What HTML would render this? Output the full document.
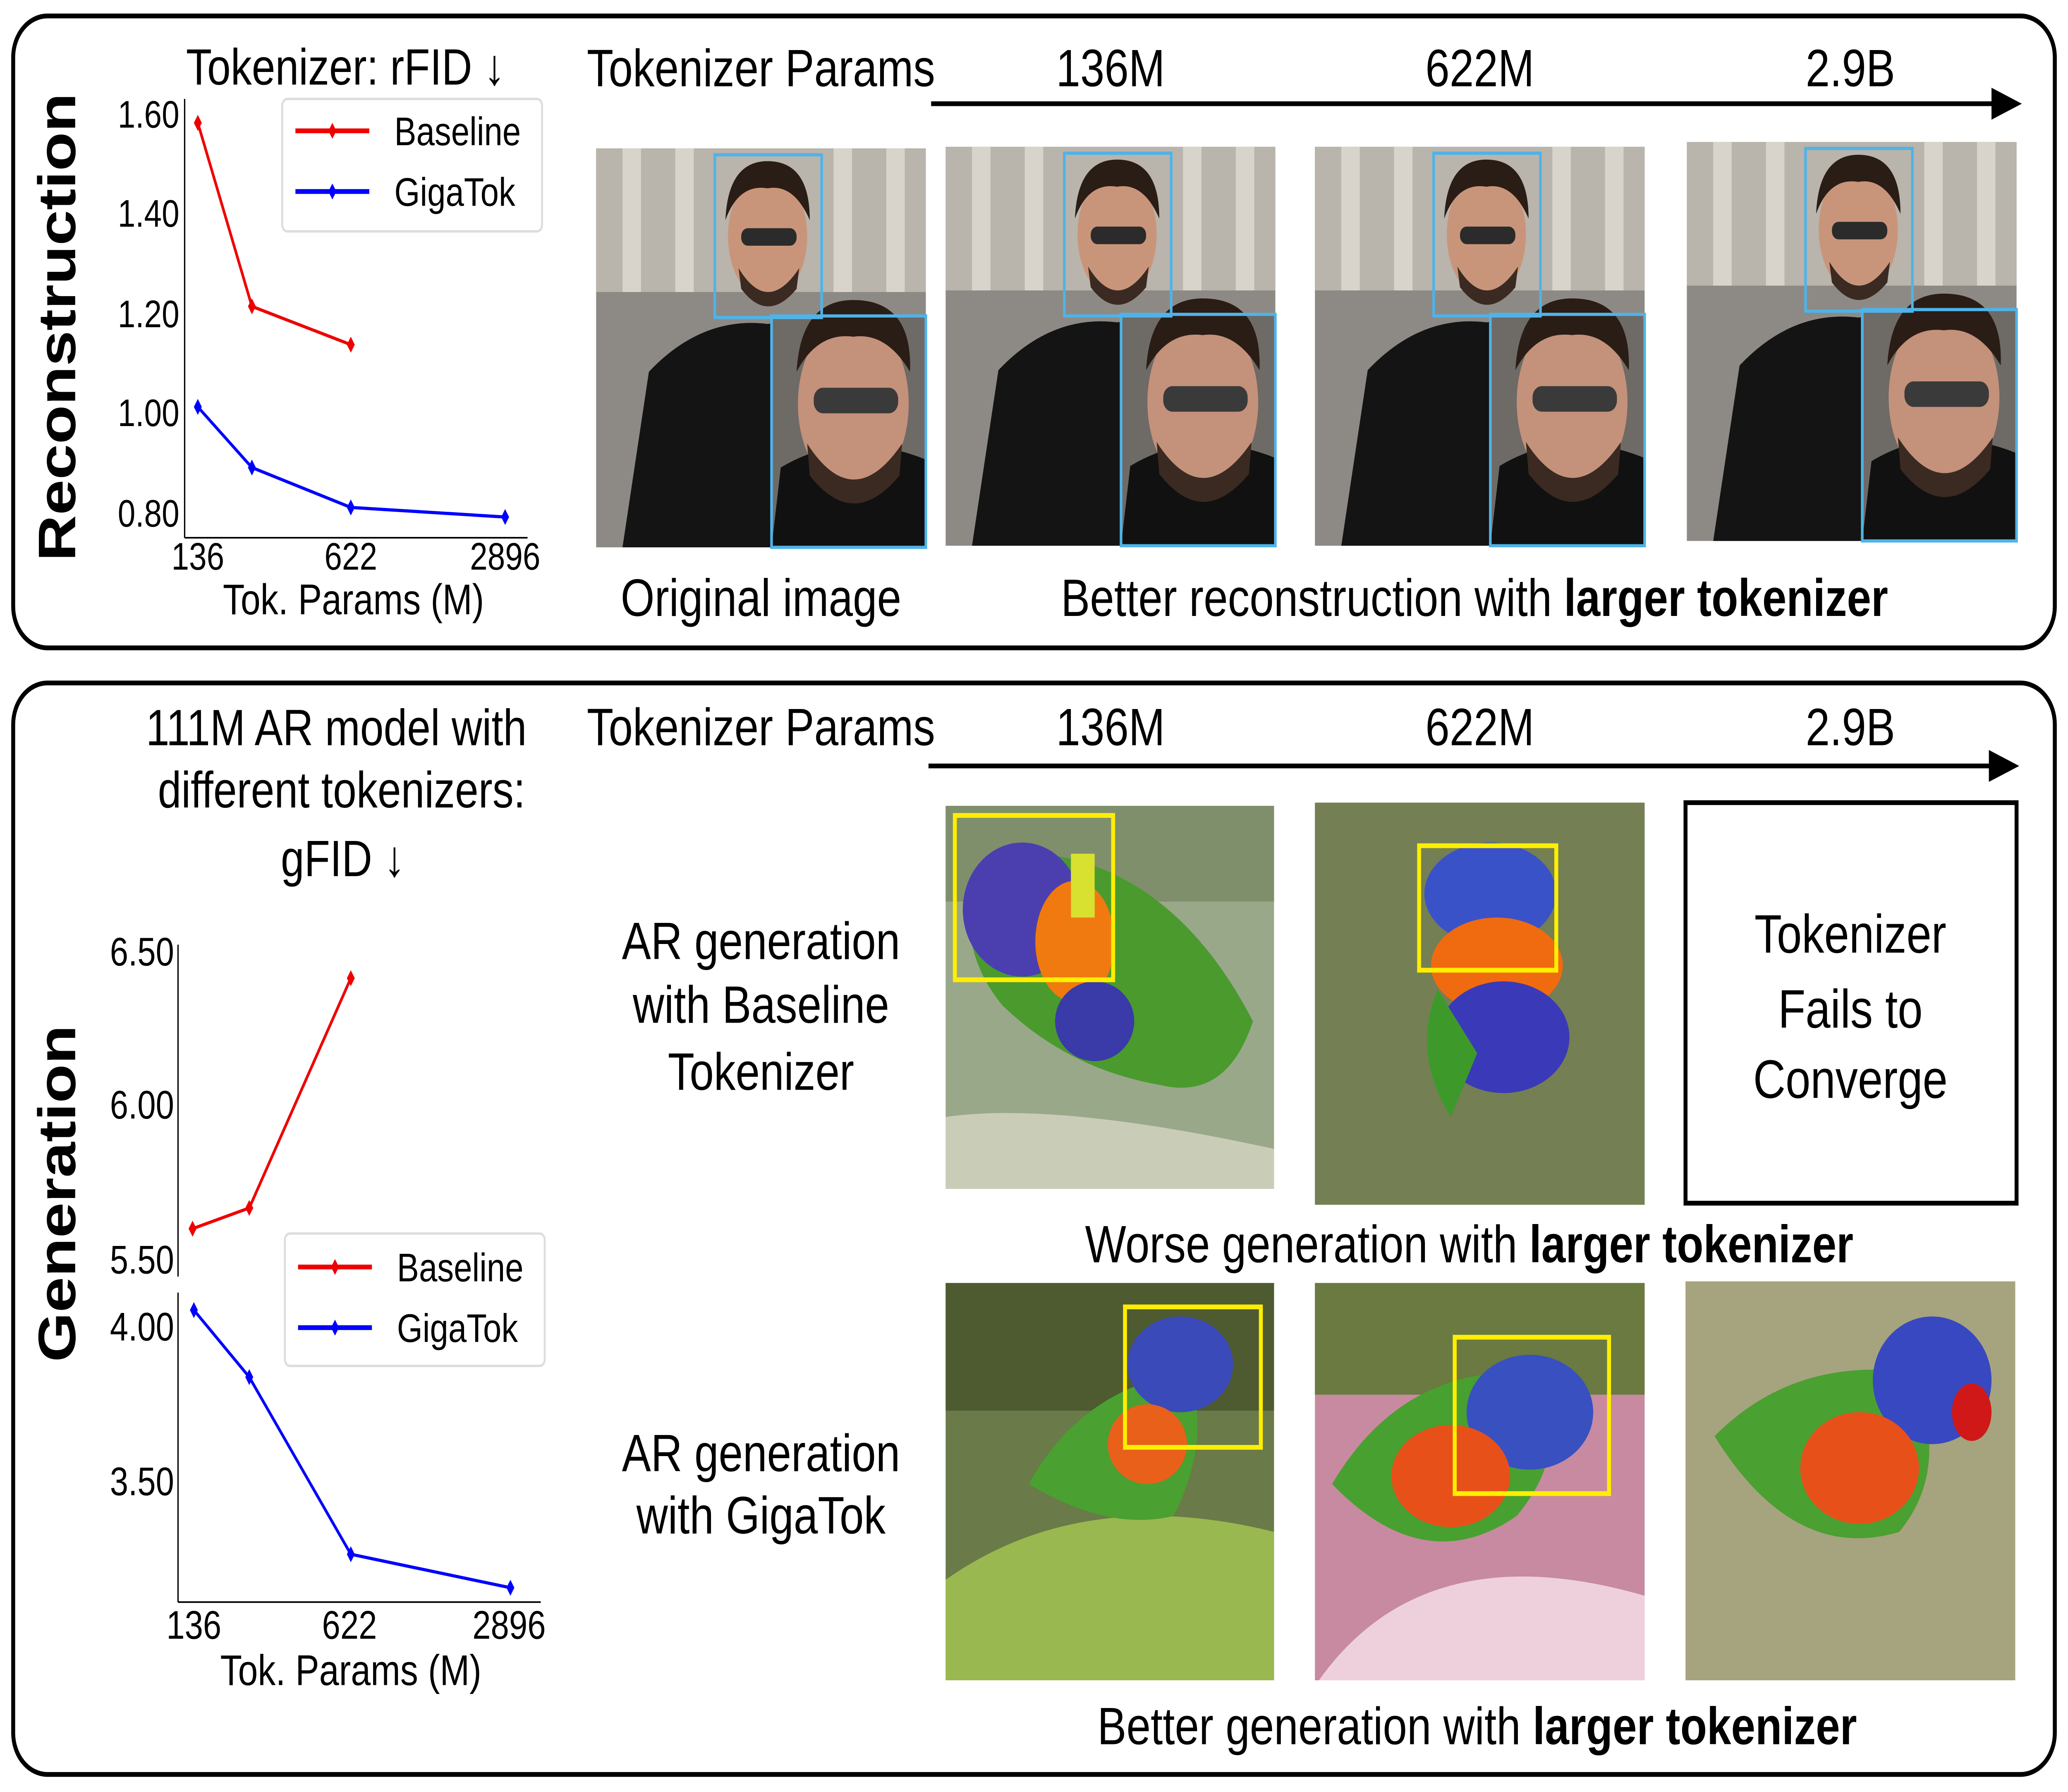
<!DOCTYPE html>
<html><head><meta charset="utf-8">
<style>
html,body{margin:0;padding:0;background:#fff;overflow:hidden;width:100%;height:100%;}
svg{display:block;width:100vw;height:100vh;}
text{font-family:"Liberation Sans",sans-serif;fill:#000;}
</style></head>
<body>
<svg viewBox="0 0 1568 1123" preserveAspectRatio="none" xmlns="http://www.w3.org/2000/svg">
<defs>
<g id="man">
  <rect x="0" y="0" width="250" height="250" fill="#8d8a86"/>
  <rect x="0" y="0" width="250" height="90" fill="#b9b4ac"/>
  <rect x="20" y="0" width="14" height="90" fill="#d8d4cc"/><rect x="60" y="0" width="14" height="90" fill="#d8d4cc"/>
  <rect x="180" y="0" width="14" height="90" fill="#d8d4cc"/><rect x="220" y="0" width="14" height="90" fill="#d8d4cc"/>
  <path d="M20,250 L40,140 Q80,105 130,110 Q180,105 220,140 L240,250 z" fill="#141414"/>
  <ellipse cx="130" cy="55" rx="30" ry="40" fill="#c9957a"/>
  <path d="M98,45 Q100,8 130,8 Q162,8 162,45 Q150,22 130,25 Q108,22 98,45z" fill="#2a1d16"/>
  <rect x="110" y="50" width="42" height="11" rx="5" fill="#2b2b2b"/>
  <path d="M108,75 Q130,105 154,75 L152,88 Q130,110 110,88z" fill="#3a2a22"/>
  <rect x="133" y="105" width="117" height="145" fill="#6e6a66"/>
  <path d="M133,250 L140,200 Q190,175 250,195 L250,250z" fill="#111"/>
  <ellipse cx="195" cy="160" rx="42" ry="55" fill="#c4917a"/>
  <path d="M152,140 Q155,95 195,95 Q240,95 238,140 Q220,115 195,118 Q168,115 152,140z" fill="#2a1d16"/>
  <rect x="165" y="150" width="64" height="16" rx="7" fill="#3a3a3a"/>
  <path d="M160,185 Q195,230 232,185 L230,205 Q195,240 162,205z" fill="#3a2a22"/>
  <rect x="90" y="4" width="81" height="102" fill="none" stroke="#4fb3e8" stroke-width="2"/>
  <rect x="133" y="105" width="117" height="145" fill="none" stroke="#4fb3e8" stroke-width="2"/>
</g>
</defs>
<rect width="1568" height="1123" fill="#fff"/>
<rect x="10" y="10" width="1548" height="396" rx="26" fill="none" stroke="#000" stroke-width="3"/>
<rect x="10" y="428" width="1548" height="684" rx="26" fill="none" stroke="#000" stroke-width="3"/>

<!-- Top chart -->
<text x="262" y="53" font-size="32" text-anchor="middle">Tokenizer: rFID ↓</text>
<text transform="translate(57,205) rotate(-90)" font-size="40" font-weight="bold" text-anchor="middle">Reconstruction</text>
<line x1="140" y1="62" x2="140" y2="337" stroke="#000" stroke-width="1"/>
<line x1="140" y1="337" x2="400" y2="337" stroke="#000" stroke-width="1"/>
<g font-size="24" text-anchor="end">
<text x="136" y="80">1.60</text><text x="136" y="142">1.40</text><text x="136" y="205">1.20</text><text x="136" y="267">1.00</text><text x="136" y="330">0.80</text>
</g>
<g font-size="24" text-anchor="middle">
<text x="150" y="357">136</text><text x="266" y="357">622</text><text x="383" y="357">2896</text>
</g>
<text x="268" y="385" font-size="27" text-anchor="middle">Tok. Params (M)</text>
<polyline points="150,77 191,192 266,216" fill="none" stroke="#e00" stroke-width="2"/>
<polyline points="150,255 191,293 266,318 383,324" fill="none" stroke="#00f" stroke-width="2"/>
<g fill="#e00"><path d="M150,72l3,5l-3,5l-3,-5z"/><path d="M191,187l3,5l-3,5l-3,-5z"/><path d="M266,211l3,5l-3,5l-3,-5z"/></g>
<g fill="#00f"><path d="M150,250l3,5l-3,5l-3,-5z"/><path d="M191,288l3,5l-3,5l-3,-5z"/><path d="M266,313l3,5l-3,5l-3,-5z"/><path d="M383,319l3,5l-3,5l-3,-5z"/></g>
<rect x="214" y="62" width="197" height="83" rx="4" fill="#fff" stroke="#ddd" stroke-width="1.5"/>
<line x1="224" y1="82" x2="280" y2="82" stroke="#e00" stroke-width="3"/><path d="M252,77l3,5l-3,5l-3,-5z" fill="#e00"/>
<line x1="224" y1="120" x2="280" y2="120" stroke="#00f" stroke-width="3"/><path d="M252,115l3,5l-3,5l-3,-5z" fill="#00f"/>
<text x="299" y="91" font-size="25">Baseline</text><text x="299" y="129" font-size="25">GigaTok</text>

<!-- Top right -->
<g font-size="33" text-anchor="middle">
<text x="577" y="54">Tokenizer Params</text><text x="842" y="54">136M</text><text x="1122" y="54">622M</text><text x="1403" y="54">2.9B</text>
</g>
<line x1="706" y1="65" x2="1512" y2="65" stroke="#000" stroke-width="3"/>
<path d="M1533,65 L1510,55 L1510,75z"/>
<use href="#man" x="452" y="93"/>
<use href="#man" x="717" y="92"/>
<use href="#man" x="997" y="92"/>
<use href="#man" x="1279" y="89"/>
<text x="577" y="386" font-size="33" text-anchor="middle">Original image</text>
<text x="1118" y="386" font-size="33" text-anchor="middle">Better reconstruction with <tspan font-weight="bold">larger tokenizer</tspan></text>

<!-- Bottom chart -->
<g font-size="32" text-anchor="middle">
<text x="255" y="467">111M AR model with</text><text x="259" y="506">different tokenizers:</text><text x="260" y="549">gFID ↓</text>
</g>
<text transform="translate(57,748) rotate(-90)" font-size="40" font-weight="bold" text-anchor="middle">Generation</text>
<line x1="135" y1="592" x2="135" y2="800" stroke="#000" stroke-width="1"/>
<line x1="135" y1="810" x2="135" y2="1004" stroke="#000" stroke-width="1"/>
<line x1="135" y1="1004" x2="410" y2="1004" stroke="#000" stroke-width="1"/>
<g font-size="25" text-anchor="end">
<text x="132" y="605">6.50</text><text x="132" y="701">6.00</text><text x="132" y="798">5.50</text><text x="132" y="840">4.00</text><text x="132" y="937">3.50</text>
</g>
<g font-size="25" text-anchor="middle">
<text x="147" y="1027">136</text><text x="265" y="1027">622</text><text x="386" y="1027">2896</text>
</g>
<text x="266" y="1056" font-size="27" text-anchor="middle">Tok. Params (M)</text>
<polyline points="146,770 189,757 266,613" fill="none" stroke="#e00" stroke-width="2"/>
<polyline points="147,821 189,863 266,974 387,995" fill="none" stroke="#00f" stroke-width="2"/>
<g fill="#e00"><path d="M146,765l3,5l-3,5l-3,-5z"/><path d="M189,752l3,5l-3,5l-3,-5z"/><path d="M266,608l3,5l-3,5l-3,-5z"/></g>
<g fill="#00f"><path d="M147,816l3,5l-3,5l-3,-5z"/><path d="M189,858l3,5l-3,5l-3,-5z"/><path d="M266,969l3,5l-3,5l-3,-5z"/><path d="M387,990l3,5l-3,5l-3,-5z"/></g>
<rect x="216" y="773" width="197" height="83" rx="4" fill="#fff" stroke="#ddd" stroke-width="1.5"/>
<line x1="226" y1="794" x2="282" y2="794" stroke="#e00" stroke-width="3"/><path d="M254,789l3,5l-3,5l-3,-5z" fill="#e00"/>
<line x1="226" y1="832" x2="282" y2="832" stroke="#00f" stroke-width="3"/><path d="M254,827l3,5l-3,5l-3,-5z" fill="#00f"/>
<text x="301" y="803" font-size="25">Baseline</text><text x="301" y="841" font-size="25">GigaTok</text>

<!-- Bottom right -->
<g font-size="33" text-anchor="middle">
<text x="577" y="467">Tokenizer Params</text><text x="842" y="467">136M</text><text x="1122" y="467">622M</text><text x="1403" y="467">2.9B</text>
<text x="577" y="601">AR generation</text><text x="577" y="641">with Baseline</text><text x="577" y="683">Tokenizer</text>
<text x="577" y="922">AR generation</text><text x="577" y="961">with GigaTok</text>
</g>
<line x1="704" y1="480" x2="1510" y2="480" stroke="#000" stroke-width="3"/>
<path d="M1531,480 L1508,470 L1508,490z"/>

<rect x="717" y="505" width="249" height="240" fill="#9aa88a"/>
<rect x="717" y="505" width="249" height="60" fill="#7f8f6c"/>
<path d="M717,700 Q800,690 966,720 L966,745 L717,745z" fill="#c9cdb8"/>
<path d="M735,560 Q760,525 820,540 Q900,560 950,640 Q930,690 880,680 Q810,670 760,630 Q730,600 735,560z" fill="#4a9a2e"/>
<ellipse cx="775" cy="570" rx="45" ry="42" fill="#4b3fb0"/>
<ellipse cx="815" cy="590" rx="30" ry="38" fill="#f07a10"/>
<ellipse cx="830" cy="640" rx="30" ry="25" fill="#3a3aa8"/>
<rect x="812" y="535" width="18" height="40" fill="#d8e030"/>
<rect x="724" y="511" width="120" height="103" fill="none" stroke="#ffee00" stroke-width="3"/>

<rect x="997" y="503" width="250" height="252" fill="#5f6f3c"/>
<rect x="997" y="503" width="250" height="252" fill="#8a8f6a" opacity="0.5"/>
<ellipse cx="1130" cy="560" rx="50" ry="32" fill="#3a52c8"/>
<ellipse cx="1135" cy="605" rx="50" ry="30" fill="#f06a10"/>
<ellipse cx="1140" cy="650" rx="50" ry="35" fill="#3a3ab8"/>
<path d="M1090,620 Q1070,660 1100,700 L1120,660z" fill="#3d9a2a"/>
<rect x="1076" y="530" width="104" height="78" fill="none" stroke="#ffee00" stroke-width="3"/>

<rect x="1278" y="503" width="251" height="251" fill="#fff" stroke="#000" stroke-width="3"/>
<g font-size="34" text-anchor="middle"><text x="1403" y="597">Tokenizer</text><text x="1403" y="644">Fails to</text><text x="1403" y="688">Converge</text></g>
<text x="1114" y="791" font-size="33" text-anchor="middle">Worse generation with <tspan font-weight="bold">larger tokenizer</tspan></text>

<rect x="717" y="804" width="249" height="249" fill="#6a7a48"/>
<rect x="717" y="804" width="249" height="80" fill="#4e5a30"/>
<path d="M717,990 Q820,930 966,960 L966,1053 L717,1053z" fill="#9ab850"/>
<path d="M780,930 Q820,870 900,860 Q920,900 890,950 Q840,960 780,930z" fill="#4aa030"/>
<ellipse cx="895" cy="855" rx="40" ry="30" fill="#3a4ab8"/>
<ellipse cx="870" cy="905" rx="30" ry="25" fill="#e8601a"/>
<rect x="853" y="819" width="103" height="88" fill="none" stroke="#ffee00" stroke-width="3"/>

<rect x="997" y="804" width="250" height="249" fill="#c78aa0"/>
<rect x="997" y="804" width="250" height="70" fill="#6a7a40"/>
<path d="M1000,1053 Q1080,960 1247,1000 L1247,1053z" fill="#eed0dc"/>
<path d="M1010,930 Q1060,860 1150,860 Q1200,900 1150,950 Q1080,990 1010,930z" fill="#48a030"/>
<ellipse cx="1160" cy="885" rx="48" ry="36" fill="#3850c0"/>
<ellipse cx="1100" cy="925" rx="45" ry="32" fill="#e8501a"/>
<rect x="1103" y="838" width="117" height="98" fill="none" stroke="#ffee00" stroke-width="3"/>

<rect x="1278" y="803" width="250" height="250" fill="#8f9460"/>
<rect x="1278" y="803" width="250" height="250" fill="#c9b8b0" opacity="0.4"/>
<path d="M1300,900 Q1360,850 1450,860 Q1480,920 1440,960 Q1360,980 1300,900z" fill="#4aa030"/>
<ellipse cx="1465" cy="865" rx="45" ry="40" fill="#3848c0"/>
<ellipse cx="1410" cy="920" rx="45" ry="35" fill="#e8501a"/>
<ellipse cx="1495" cy="885" rx="15" ry="18" fill="#d01818"/>
<text x="1120" y="1093" font-size="33" text-anchor="middle">Better generation with <tspan font-weight="bold">larger tokenizer</tspan></text>
</svg>
</body></html>
